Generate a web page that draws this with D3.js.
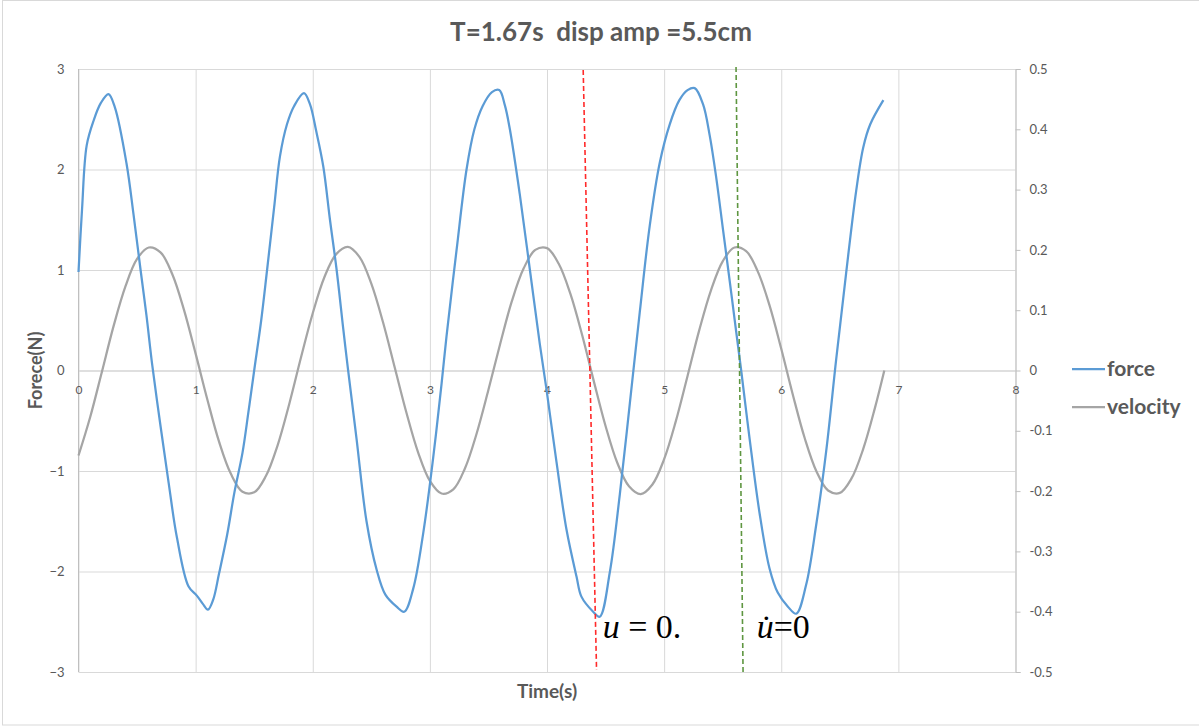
<!DOCTYPE html>
<html><head><meta charset="utf-8">
<script src="https://cdn.jsdelivr.net/npm/d3@7"></script>
<style>
html,body{margin:0;padding:0;background:#fff;}
svg{display:block;font-family:Lato,"Open Sans",sans-serif;}
</style>
</head><body>
<svg id="chart" width="1199" height="726"></svg>
<script>
// ---------------- data ----------------
const chartTitle = "T=1.67s  disp amp =5.5cm";
const xAxisTitle = "Time(s)";
const yAxisTitle = "Forece(N)";
const seriesNames = ["force", "velocity"];
const seriesColors = ["#5B9BD5", "#A5A5A5"];

const forceTime = [0, 0.03, 0.07, 0.13, 0.19, 0.256, 0.31, 0.41, 0.47, 0.53, 0.58, 0.63, 0.70, 0.77, 0.84, 0.94, 1.01, 1.06, 1.105, 1.15, 1.20, 1.27, 1.33, 1.40, 1.45, 1.50, 1.56, 1.61, 1.67, 1.72, 1.78, 1.84, 1.925, 1.976, 2.03, 2.09, 2.147, 2.203, 2.26, 2.30, 2.374, 2.459, 2.545, 2.62, 2.716, 2.781, 2.858, 2.943, 3.028, 3.10, 3.142, 3.228, 3.313, 3.38, 3.45, 3.53, 3.592, 3.64, 3.683, 3.768, 3.853, 3.939, 3.996, 4.081, 4.166, 4.252, 4.294, 4.394, 4.45, 4.536, 4.622, 4.707, 4.792, 4.877, 4.963, 5.048, 5.13, 5.20, 5.261, 5.332, 5.389, 5.446, 5.503, 5.56, 5.616, 5.659, 5.73, 5.815, 5.90, 5.97, 6.057, 6.128, 6.213, 6.298, 6.384, 6.469, 6.554, 6.64, 6.70, 6.76, 6.872];
const forceValue = [0.98, 1.60, 2.24, 2.49, 2.66, 2.75, 2.62, 2.06, 1.55, 1.00, 0.55, 0.05, -0.55, -1.12, -1.66, -2.15, -2.24, -2.32, -2.38, -2.28, -2.02, -1.63, -1.22, -0.82, -0.42, 0.00, 0.50, 1.00, 1.62, 2.13, 2.45, 2.63, 2.76, 2.65, 2.38, 2.03, 1.50, 1.01, 0.42, 0.02, -0.68, -1.50, -1.98, -2.23, -2.35, -2.40, -2.17, -1.62, -0.87, -0.13, 0.34, 1.20, 2.00, 2.40, 2.63, 2.77, 2.79, 2.64, 2.40, 1.75, 1.01, 0.26, -0.19, -0.91, -1.58, -2.05, -2.25, -2.40, -2.45, -2.01, -1.23, -0.33, 0.58, 1.44, 2.07, 2.45, 2.69, 2.79, 2.81, 2.65, 2.34, 1.91, 1.40, 0.89, 0.38, -0.01, -0.68, -1.42, -1.97, -2.21, -2.35, -2.42, -2.13, -1.54, -0.80, 0.11, 0.97, 1.79, 2.22, 2.45, 2.69];

const velocityTime = [0, 0.1, 0.2, 0.3, 0.4, 0.5, 0.6, 0.7, 0.8, 0.9, 1.0, 1.1, 1.2, 1.3, 1.4, 1.5, 1.6, 1.7, 1.8, 1.9, 2.0, 2.1, 2.2, 2.3, 2.4, 2.5, 2.6, 2.7, 2.8, 2.9, 3.0, 3.1, 3.2, 3.3, 3.4, 3.5, 3.6, 3.7, 3.8, 3.9, 4.0, 4.1, 4.2, 4.3, 4.4, 4.5, 4.6, 4.7, 4.8, 4.9, 5.0, 5.1, 5.2, 5.3, 5.4, 5.5, 5.6, 5.7, 5.8, 5.9, 6.0, 6.1, 6.2, 6.3, 6.4, 6.5, 6.6, 6.7, 6.8, 6.88];
const velocityValue = [-0.141, -0.077, -0.002, 0.074, 0.139, 0.185, 0.204, 0.196, 0.160, 0.101, 0.028, -0.048, -0.118, -0.171, -0.201, -0.202, -0.175, -0.124, -0.055, 0.022, 0.095, 0.155, 0.193, 0.205, 0.188, 0.144, 0.080, 0.005, -0.070, -0.136, -0.183, -0.204, -0.197, -0.162, -0.104, -0.032, 0.044, 0.115, 0.169, 0.200, 0.203, 0.177, 0.127, 0.059, -0.018, -0.092, -0.153, -0.192, -0.205, -0.189, -0.147, -0.084, -0.009, 0.067, 0.133, 0.181, 0.204, 0.198, 0.164, 0.108, 0.036, -0.041, -0.112, -0.167, -0.199, -0.203, -0.179, -0.130, -0.062, 0.000];

const timeTicks = [0, 1, 2, 3, 4, 5, 6, 7, 8];
const forceTicks = [-3, -2, -1, 0, 1, 2, 3];
const velocityTicks = [-0.5, -0.4, -0.3, -0.2, -0.1, 0, 0.1, 0.2, 0.3, 0.4, 0.5];
const velocityTickLabels = ["-0.5", "-0.4", "-0.3", "-0.2", "-0.1", "0", "0.1", "0.2", "0.3", "0.4", "0.5"];

// dashed marker lines: [time, force] at top and bottom
const markerNames = ["u=0", "udot=0"];
const markerColors = ["#FF2A2A", "#5E9640"];
const markerTop = [[4.309, 2.99], [5.614, 3.02]];
const markerBottom = [[4.423, -2.98], [5.674, -3.0]];

const annotationTexts = ["u = 0.", "u\u0307=0"];
const annotationAt = [[4.475, -2.66], [5.79, -2.66]];

// ---------------- layout ----------------
const svg = d3.select("#chart");
const plotLeft = 78.5, plotRight = 1015.5, plotTop = 69, plotBottom = 672;
const x = d3.scaleLinear().domain([0, 8]).range([plotLeft, plotRight]);
const yF = d3.scaleLinear().domain([-3, 3]).range([plotBottom, plotTop]);
const yV = d3.scaleLinear().domain([-0.5, 0.5]).range([plotBottom, plotTop]);
const textColor = "#595959";

// outer border
svg.append("rect").attr("x", 2.5).attr("y", 0.5).attr("width", 1200).attr("height", 724.5)
  .attr("fill", "#fff").attr("stroke", "#d9d9d9").attr("stroke-width", 1);

// horizontal gridlines
const gridH = svg.append("g").attr("transform", `translate(${plotLeft},0)`)
  .call(d3.axisLeft(yF).tickValues(forceTicks).tickSize(-(plotRight - plotLeft)).tickFormat(""));
gridH.select(".domain").remove();
gridH.selectAll(".tick line").attr("stroke", d => d === 0 ? "#bfbfbf" : "#d9d9d9").attr("stroke-width", 1);

// vertical gridlines
const gridV = svg.append("g").attr("transform", `translate(0,${plotBottom})`)
  .call(d3.axisBottom(x).tickValues(timeTicks).tickSize(-(plotBottom - plotTop)).tickFormat(""));
gridV.select(".domain").remove();
gridV.selectAll(".tick line").attr("stroke", "#d9d9d9").attr("stroke-width", 1);

// left axis line + labels
svg.append("line").attr("x1", plotLeft).attr("x2", plotLeft).attr("y1", plotTop).attr("y2", plotBottom)
  .attr("stroke", "#bfbfbf").attr("stroke-width", 1);
const leftAxis = svg.append("g").attr("transform", `translate(${plotLeft},0)`)
  .call(d3.axisLeft(yF).tickValues(forceTicks).tickSize(0).tickPadding(14).tickFormat(d3.format("d")));
leftAxis.select(".domain").remove();
leftAxis.selectAll("text").attr("fill", textColor).style("font-size", "13px").style("font-family", "Lato, sans-serif");

// right axis
const rightAxis = svg.append("g").attr("transform", `translate(${plotRight},0)`)
  .call(d3.axisRight(yV).tickValues(velocityTicks).tickSize(5).tickPadding(9)
    .tickFormat((d, i) => velocityTickLabels[i]));
rightAxis.select(".domain").attr("stroke", "#bfbfbf");
rightAxis.selectAll(".tick line").attr("stroke", "#bfbfbf");
rightAxis.selectAll("text").attr("fill", textColor).style("font-size", "13px").style("font-family", "Lato, sans-serif");

// x tick labels along the zero line
const xAxis = svg.append("g").attr("transform", `translate(0,${yF(0)})`)
  .call(d3.axisBottom(x).tickValues(timeTicks).tickSize(0).tickPadding(15).tickFormat(d3.format("d")));
xAxis.select(".domain").remove();
xAxis.selectAll("text").attr("fill", textColor).style("font-size", "12px").style("font-family", "Lato, sans-serif");

// series
const lineF = d3.line().x(d => x(d[0])).y(d => yF(d[1])).curve(d3.curveCatmullRom.alpha(0.5));
const lineV = d3.line().x(d => x(d[0])).y(d => yV(d[1])).curve(d3.curveCatmullRom.alpha(0.5));
const forceData = forceTime.map((t, i) => [t, forceValue[i]]);
const velocityData = velocityTime.map((t, i) => [t, velocityValue[i]]);

svg.append("path").datum(velocityData).attr("d", lineV).attr("fill", "none")
  .attr("stroke", seriesColors[1]).attr("stroke-width", 2.25).attr("stroke-linejoin", "round");
svg.append("path").datum(forceData).attr("d", lineF).attr("fill", "none")
  .attr("stroke", seriesColors[0]).attr("stroke-width", 2.25).attr("stroke-linejoin", "round");

// dashed marker lines
markerNames.forEach((n, i) => {
  svg.append("line")
    .attr("x1", x(markerTop[i][0])).attr("y1", yF(markerTop[i][1]))
    .attr("x2", x(markerBottom[i][0])).attr("y2", yF(markerBottom[i][1]))
    .attr("stroke", markerColors[i]).attr("stroke-width", 1.6).attr("stroke-dasharray", "5,3");
});

// annotations
annotationTexts.forEach((s, i) => {
  const t = svg.append("text").attr("x", x(annotationAt[i][0])).attr("y", yF(annotationAt[i][1]))
    .attr("fill", "#000").style("font-family", "'Liberation Serif', 'DejaVu Serif', serif").style("font-size", "34px")
    .style("white-space", "pre");
  if (i === 0) {
    t.append("tspan").style("font-style", "italic").text("u");
    t.append("tspan").text(" = 0.");
  } else {
    t.append("tspan").style("font-style", "italic").text("u\u0307");
    t.append("tspan").text("=0");
  }
});

// title
svg.append("text").attr("x", 601).attr("y", 41).attr("text-anchor", "middle")
  .attr("fill", textColor).style("font-size", "26px").style("font-weight", "bold")
  .style("white-space", "pre").attr("xml:space", "preserve").text(chartTitle);

// axis titles
svg.append("text").attr("x", 547).attr("y", 698).attr("text-anchor", "middle")
  .attr("fill", textColor).style("font-size", "19px").style("font-weight", "bold").text(xAxisTitle);
svg.append("text").attr("transform", `translate(42,${yF(0)}) rotate(-90)`).attr("text-anchor", "middle")
  .attr("fill", textColor).style("font-size", "18px").style("font-weight", "bold").text(yAxisTitle);

// legend
const legendY = [369, 407];
seriesNames.forEach((n, i) => {
  svg.append("line").attr("x1", 1072).attr("x2", 1105).attr("y1", legendY[i]).attr("y2", legendY[i])
    .attr("stroke", seriesColors[i]).attr("stroke-width", 2.25);
  svg.append("text").attr("x", 1107).attr("y", legendY[i]).attr("dy", "0.35em")
    .attr("fill", textColor).style("font-size", "21px").style("font-weight", "bold").text(n);
});
</script>
</body></html>
